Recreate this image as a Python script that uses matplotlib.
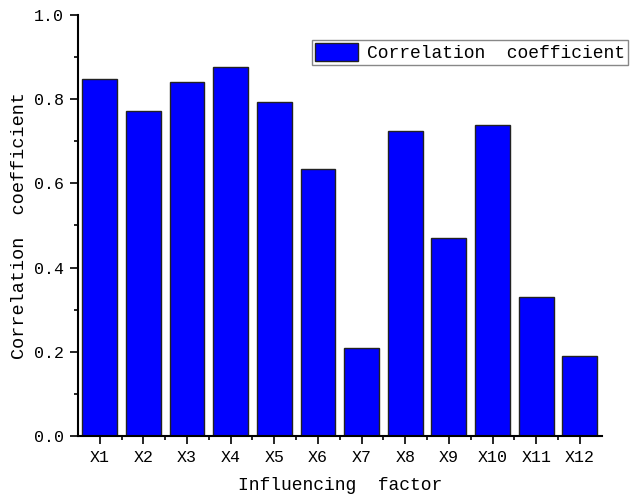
import matplotlib
matplotlib.use("Agg")
import matplotlib.pyplot as plt
from matplotlib.ticker import MultipleLocator


# =========================
# DATA
# =========================

factors = [
    "X1", "X2", "X3", "X4", "X5", "X6",
    "X7", "X8", "X9", "X10", "X11", "X12"
]

coefficients = [
    0.848, 0.773, 0.840, 0.877, 0.793, 0.634,
    0.208, 0.724, 0.470, 0.739, 0.330, 0.190
]


# =========================
# CHART
# =========================

plt.rcParams["font.family"] = ["Liberation Mono", "DejaVu Sans Mono"]

fig = plt.figure(figsize=(6.33, 4.99), dpi=100)

ax = fig.add_axes([0.123, 0.1263, 0.8276, 0.8437])

positions = list(range(1, len(factors) + 1))

ax.bar(
    positions,
    coefficients,
    width=0.8,
    color="#0000FF",
    edgecolor="#222222",
    linewidth=1.0,
    label="Correlation  coefficient"
)

ax.set_xlim(0.5, len(factors) + 0.5)
ax.set_ylim(0, 1.0)

ax.set_xticks(positions)
ax.set_xticklabels(factors)
# minor x ticks sit between the categories
ax.set_xticks([p + 0.5 for p in positions[:-1]], minor=True)
ax.set_xlim(0.5, len(factors) + 0.5)

ax.yaxis.set_major_locator(MultipleLocator(0.2))
ax.yaxis.set_minor_locator(MultipleLocator(0.1))
ax.yaxis.set_major_formatter(plt.FuncFormatter(lambda v, _: f"{v:.1f}"))

for side in ["top", "right"]:
    ax.spines[side].set_visible(False)

for side in ["left", "bottom"]:
    ax.spines[side].set_linewidth(1.5)

ax.tick_params(
    which="major",
    direction="out",
    length=6,
    width=1.2,
    labelsize=12,
    pad=4
)

ax.tick_params(
    which="minor",
    direction="out",
    length=3,
    width=1.2
)

ax.set_xlabel("Influencing  factor", fontsize=13, labelpad=9)
ax.set_ylabel("Correlation  coefficient", fontsize=13.3, labelpad=4)

fig.legend(
    loc="upper left",
    bbox_to_anchor=(312 / 633, 1 - 40 / 499),
    bbox_transform=fig.transFigure,
    fontsize=13,
    frameon=True,
    fancybox=False,
    edgecolor="#888888",
    framealpha=1,
    borderpad=0.15,
    borderaxespad=0,
    handlelength=2.4,
    handleheight=1.2,
    handletextpad=0.5
)

fig.savefig("out.png", dpi=100)
